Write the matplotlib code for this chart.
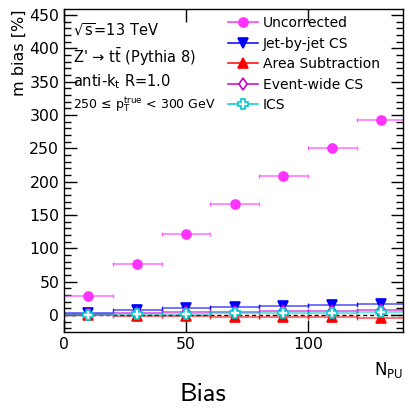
import matplotlib
matplotlib.use('Agg')
import matplotlib.pyplot as plt
from matplotlib.lines import Line2D
from matplotlib.ticker import MultipleLocator
import numpy as np

plt.rcParams['font.family'] = ['DejaVu Sans']
plt.rcParams['mathtext.default'] = 'regular'

# N_PU bins (centres), half-width of each bin
n_pu = np.array([10, 30, 50, 70, 90, 110, 130])
bin_half = 10

uncorrected = np.array([28, 77, 122, 166, 208, 250, 292])
jet_by_jet_cs = np.array([3, 7, 10, 12, 13.5, 15, 17])
area_sub = np.array([-0.5, -1, -2, -2.5, -3, -3.5, -4])
event_wide_cs = np.array([1, 3, 4, 5, 5.5, 6, 7])
ics = np.array([0.5, 1.5, 2, 2.5, 3, 3.5, 4])

series = [
    ('Uncorrected', uncorrected, '#ff33ff', 'o', '#ff33ff', 6.5),
    ('Jet-by-jet CS', jet_by_jet_cs, '#0000ff', 'v', '#0000ff', 7),
    ('Area Subtraction', area_sub, '#ff0000', '^', '#ff0000', 7),
    ('Event-wide CS', event_wide_cs, '#cc00cc', 'd', 'white', 6),
    ('ICS', ics, '#00cccc', 'P', 'white', 7),
]

fig = plt.figure(figsize=(4.06, 4.15), dpi=100)
ax = fig.add_axes([64 / 406, 1 - 332 / 415, 339 / 406, 323 / 415])

ax.axhline(0, color='black', lw=1, ls=(0, (3, 2)), zorder=1)

handles = []
for name, vals, col, mk, face, ms in series:
    ax.errorbar(n_pu, vals, xerr=bin_half, yerr=0.5, fmt='none',
                ecolor=col, elinewidth=1.1, capsize=1.5, alpha=0.7, zorder=2)
    ax.plot(n_pu, vals, ls='none', marker=mk, color=col, mfc=face,
            mec=col, ms=ms, mew=1.2, zorder=3)
    handles.append(Line2D([], [], color=col, lw=1.1, marker=mk, mfc=face,
                          mec=col, ms=ms, mew=1.2))

ax.set_xlim(0, 139)
ax.set_ylim(-25.5, 459)
ax.xaxis.set_major_locator(MultipleLocator(50))
ax.yaxis.set_major_locator(MultipleLocator(50))
ax.yaxis.set_minor_locator(MultipleLocator(10))
ax.tick_params(which='both', direction='in', top=True, right=True,
               labelsize=11.3, width=1)
ax.tick_params(which='major', length=9)
ax.tick_params(which='minor', length=5)
for s in ax.spines.values():
    s.set_linewidth(1)

ax.set_ylabel('m bias [%]', fontsize=11.5, loc='top', labelpad=2)
ax.set_xlabel('N$_{PU}$', fontsize=12, loc='right', labelpad=6)

ax.legend(handles, [s[0] for s in series], loc='upper left',
          bbox_to_anchor=(0.484, 0.978), frameon=False, fontsize=10,
          handlelength=2.14, handletextpad=0.35, labelspacing=0.47,
          borderpad=0, borderaxespad=0)

txt_kw = dict(transform=ax.transAxes, ha='left', va='center', fontsize=10.5)
ax.text(0.027, 0.935, r'$\sqrt{s}$=13 TeV', **txt_kw)
ax.text(0.027, 0.851, "Z' \u2192 t$\\bar{t}$ (Pythia 8)", **txt_kw)
ax.text(0.027, 0.774, r'anti-k$_{t}$ R=1.0', **txt_kw)
ax.text(0.027, 0.700, '250 \u2264 p$_{T}^{true}$ < 300 GeV',
        transform=ax.transAxes, ha='left', va='center', fontsize=9)

fig.text(0.5, 1 - 394 / 415, 'Bias', ha='center', va='center', fontsize=19,
         family='cmss10')

fig.savefig('out.png', dpi=100)
